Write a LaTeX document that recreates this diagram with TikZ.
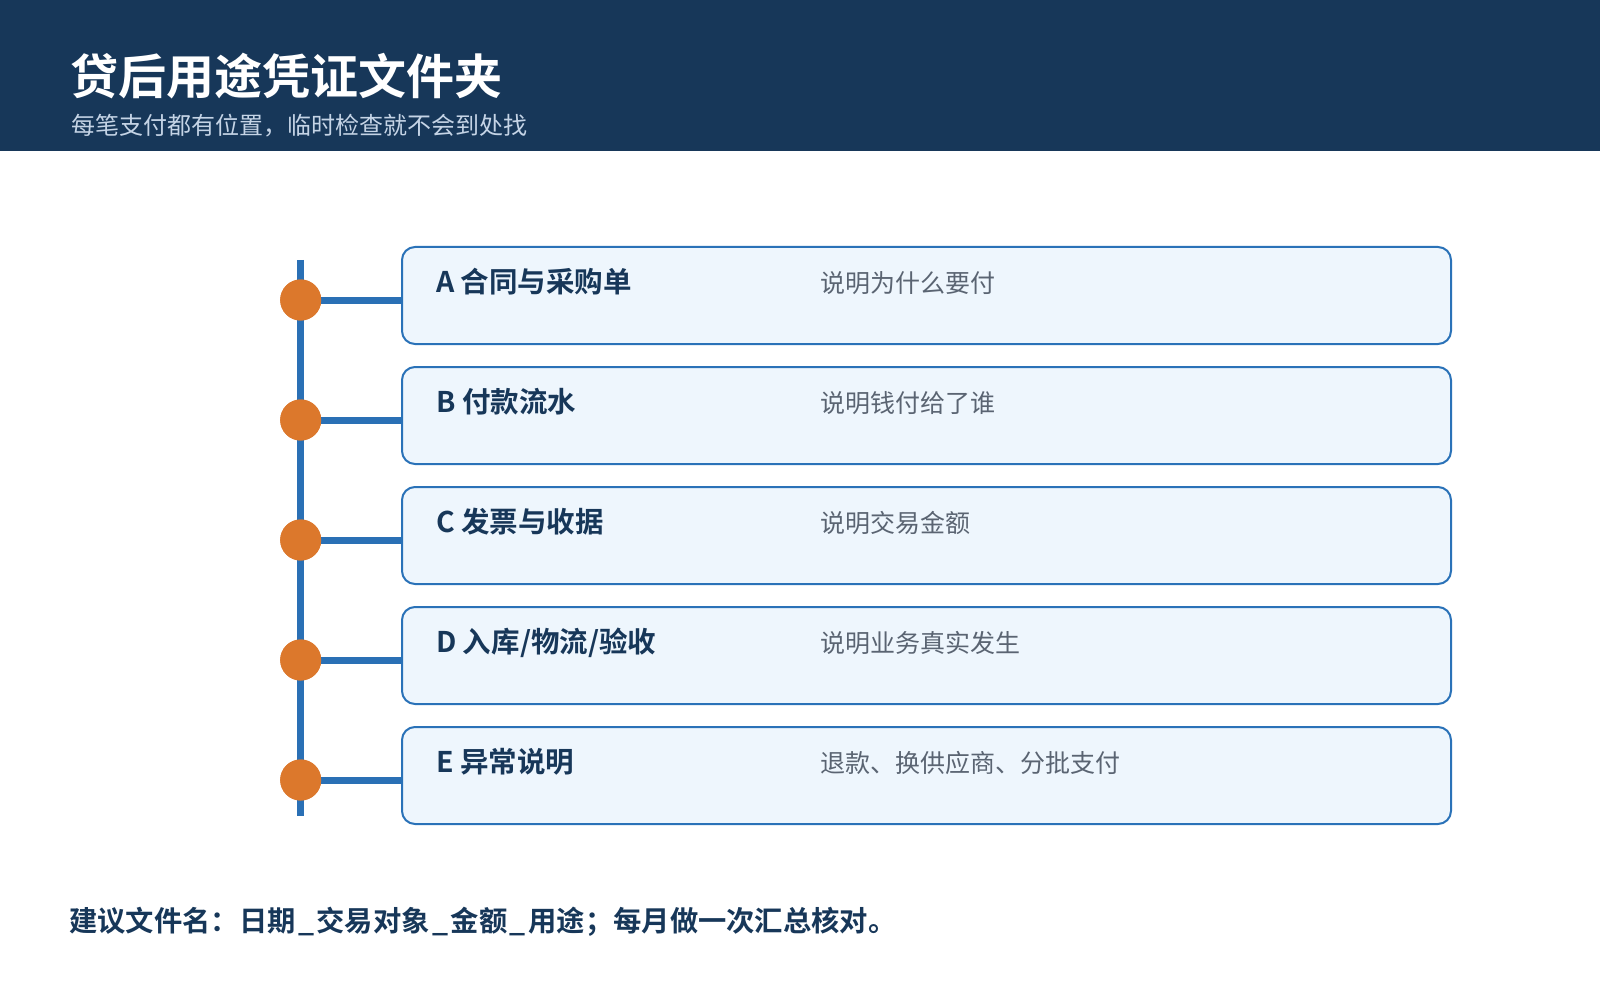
\documentclass[tikz,border=0pt]{standalone}
\usepackage{fontspec}
\setmainfont{Noto Sans CJK SC}
\newfontfamily\cjkbold{Noto Sans CJK SC Bold}
\definecolor{headbg}{HTML}{173759}
\definecolor{subtxt}{HTML}{C5D4E6}
\definecolor{navy}{HTML}{173759}
\definecolor{descgray}{HTML}{5A6472}
\definecolor{boxfill}{HTML}{EEF6FD}
\definecolor{boxline}{HTML}{2A72B8}
\definecolor{spine}{HTML}{2A70B5}
\definecolor{dotorange}{HTML}{DC782C}
\newcommand\usc{\hspace{2.5pt}\_\hspace{2.5pt}}
\tikzset{
  x=1pt,y=-1pt,
  cardbox/.style={draw=boxline,line width=2pt,fill=boxfill,rounded corners=13pt,minimum width=1049pt,minimum height=97pt,anchor=north west,inner sep=0pt},
  cardtitle/.style={anchor=base west,inner sep=0pt,text=navy,font=\cjkbold\fontsize{28.5}{32}\selectfont},
  carddesc/.style={anchor=base west,inner sep=0pt,text=descgray,font=\fontsize{25}{30}\selectfont},
  dotnode/.style={circle,fill=dotorange,minimum size=41pt,inner sep=0pt},
  spineline/.style={draw=spine,line width=7pt},
}
\begin{document}
\begin{tikzpicture}
\useasboundingbox (0,0) rectangle (1600,1000);
\fill[headbg] (0,0) rectangle (1600,151);
\node[anchor=base west,inner sep=0pt,text=white,font=\cjkbold\fontsize{48}{56}\selectfont] (title) at (70,94.5) {贷后用途凭证文件夹};
\node[anchor=base west,inner sep=0pt,text=subtxt,font=\fontsize{24}{28}\selectfont] (subtitle) at (71,134.6) {每笔支付都有位置，临时检查就不会到处找};
\coordinate (spinetop) at (300.7,260);
\coordinate (spinebot) at (300.7,816);
\draw[spineline] (spinetop) -- (spinebot);
\foreach \i/\t/\d [count=\n from 0] in {A/{A 合同与采购单}/{说明为什么要付}, B/{B 付款流水}/{说明钱付给了谁}, C/{C 发票与收据}/{说明交易金额}, D/{D 入库/物流/验收}/{说明业务真实发生}, E/{E 异常说明}/{退款、换供应商、分批支付}}{
  \pgfmathsetmacro{\top}{246+120*\n}
  \node[cardbox] (box\i) at (401,\top) {};
  \node[dotnode] (dot\i) at (300.7,\top+54) {};
  \draw[spineline] (dot\i.center) -- (box\i.west |- dot\i.center);
  \node[dotnode] at (dot\i) {};
  \node[cardtitle] (t\i) at (436,\top+46.5) {\t};
  \node[carddesc] (d\i) at (820,\top+46.5) {\d};
}
\node[anchor=base west,inner sep=0pt,text=navy,font=\cjkbold\fontsize{28.3}{32}\selectfont] (note) at (69,931.6) {建议文件名：日期\usc 交易对象\usc 金额\usc 用途；每月做一次汇总核对。};
\end{tikzpicture}
\end{document}
